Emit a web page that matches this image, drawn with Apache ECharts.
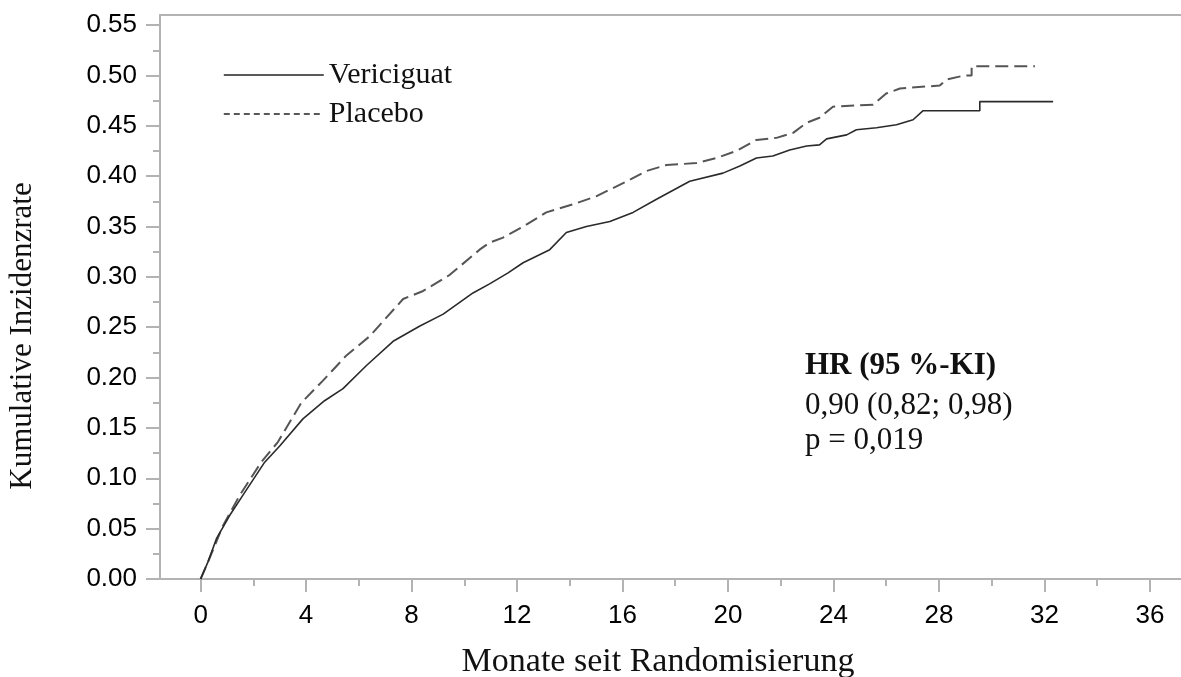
<!DOCTYPE html>
<html><head><meta charset="utf-8">
<script src="https://cdn.jsdelivr.net/npm/echarts@6/dist/echarts.min.js"></script>
<style>html,body{margin:0;padding:0;background:#fff}#c{width:1181px;height:677px}</style>
</head><body><div id="c"></div>
<script>
// Data: [months, cumulative incidence]
const vericiguat = [
  [0,0],[0.28,0.017],[0.6,0.040],[1.1,0.063],[1.6,0.083],[2.43,0.116],[3.0,0.132],
  [3.88,0.159],[4.7,0.177],[5.4,0.189],[6.29,0.212],[7.3,0.236],[8.3,0.251],[9.2,0.263],
  [10.33,0.284],[10.96,0.293],[11.66,0.304],[12.23,0.314],[13.24,0.327],[13.87,0.344],
  [14.63,0.350],[15.52,0.355],[16.4,0.364],[17.29,0.377],[18.55,0.395],[19.81,0.403],
  [20.45,0.410],[21.08,0.418],[21.7,0.420],[22.34,0.426],[22.98,0.430],[23.47,0.431],
  [23.74,0.437],[24.5,0.441],[24.87,0.446],[25.63,0.448],[26.39,0.451],[27.02,0.456],
  [27.4,0.465],[29.55,0.465],[29.55,0.474],[32.33,0.474]
];
const placebo = [
  [0,0],[0.28,0.017],[0.85,0.053],[1.48,0.083],[2.3,0.116],[2.93,0.136],[3.82,0.175],
  [4.64,0.197],[5.53,0.222],[6.41,0.241],[7.68,0.278],[8.44,0.286],[9.45,0.302],
  [10.58,0.327],[10.96,0.334],[11.47,0.339],[12.23,0.350],[13.11,0.364],[14.12,0.372],
  [15.0,0.380],[16.02,0.393],[16.9,0.405],[17.66,0.411],[18.8,0.413],[19.56,0.418],
  [20.32,0.425],[21.08,0.436],[21.84,0.438],[22.47,0.443],[22.98,0.453],[23.47,0.458],
  [23.98,0.469],[25.5,0.471],[26.0,0.482],[26.52,0.487],[28.03,0.490],[28.29,0.496],
  [28.98,0.500],[29.24,0.500],[29.24,0.509],[31.64,0.509]
];
const seriesNames = ['Vericiguat', 'Placebo'];
const xTickValues = [0,4,8,12,16,20,24,28,32,36];
const xMinorValues = [2,6,10,14,18,22,26,30,34];
const yTickValues = [0,0.05,0.10,0.15,0.20,0.25,0.30,0.35,0.40,0.45,0.50,0.55];
const yTickLabels = ['0.00','0.05','0.10','0.15','0.20','0.25','0.30','0.35','0.40','0.45','0.50','0.55'];
const yMinorValues = [0.025,0.075,0.125,0.175,0.225,0.275,0.325,0.375,0.425,0.475,0.525];
const xTitle = 'Monate seit Randomisierung';
const yTitle = 'Kumulative Inzidenzrate';
const annotationLines = ['HR (95 %-KI)', '0,90 (0,82; 0,98)', 'p = 0,019'];

const AX = '#b3b3b3';
const SANS = '"Liberation Sans", Arial, sans-serif';
const SERIF = '"Liberation Serif", "Times New Roman", serif';
const X_MIN = -1.54, X_MAX = 37.18, Y_MAX = 0.56;

const chart = echarts.init(document.getElementById('c'), null, {renderer: 'canvas'});
const axLine = {show: true, onZero: false, lineStyle: {color: AX, width: 2}};
const hiddenSymbol = {color: 'rgba(0,0,0,0)', borderWidth: 0, opacity: 0};
chart.setOption({
  animation: false,
  backgroundColor: '#fff',
  grid: {left: 160, right: 0, top: 15, bottom: 98, containLabel: false},
  legend: {
    left: 218, top: 55, orient: 'vertical', itemWidth: 100, itemHeight: 14, itemGap: 9,
    selectedMode: false,
    itemStyle: hiddenSymbol,
    textStyle: {fontFamily: SERIF, fontSize: 30, color: '#111'},
    data: [
      {name: seriesNames[0], itemStyle: hiddenSymbol, lineStyle: {type: 'solid', width: 1.3, color: '#222'}},
      {name: seriesNames[1], itemStyle: hiddenSymbol, lineStyle: {type: [6, 4], width: 1.6, color: '#222'}}
    ]
  },
  xAxis: [
    {type: 'value', min: X_MIN, max: X_MAX, position: 'bottom', axisLine: axLine,
     axisTick: {show: true, length: 13, customValues: xTickValues, lineStyle: {color: AX, width: 2}},
     axisLabel: {customValues: xTickValues, margin: 24, fontSize: 26, fontFamily: SANS, color: '#000'},
     splitLine: {show: false}},
    {type: 'value', min: X_MIN, max: X_MAX, position: 'bottom', axisLine: {show: false, onZero: false},
     axisTick: {show: true, length: 7, customValues: xMinorValues, lineStyle: {color: AX, width: 2}},
     axisLabel: {show: false}, splitLine: {show: false}},
    {type: 'value', min: X_MIN, max: X_MAX, position: 'top', axisLine: axLine,
     axisTick: {show: false}, axisLabel: {show: false}, splitLine: {show: false}}
  ],
  yAxis: [
    {type: 'value', min: 0, max: Y_MAX, position: 'left', axisLine: axLine,
     axisTick: {show: true, length: 14, customValues: yTickValues, lineStyle: {color: AX, width: 2}},
     axisLabel: {customValues: yTickValues, margin: 23, fontSize: 26, fontFamily: SANS, color: '#000',
       formatter: v => { const i = yTickValues.findIndex(t => Math.abs(t - v) < 1e-9); return i >= 0 ? yTickLabels[i] : ''; }},
     splitLine: {show: false}},
    {type: 'value', min: 0, max: Y_MAX, position: 'left', axisLine: {show: false, onZero: false},
     axisTick: {show: true, length: 7, customValues: yMinorValues, lineStyle: {color: AX, width: 2}},
     axisLabel: {show: false}, splitLine: {show: false}}
  ],
  series: [
    {name: seriesNames[0], type: 'line', xAxisIndex: 0, yAxisIndex: 0, data: vericiguat,
     symbol: 'none', showSymbol: false, z: 4,
     lineStyle: {color: '#2a2a2a', width: 1.6}, itemStyle: {color: '#2a2a2a'}},
    {name: seriesNames[1], type: 'line', xAxisIndex: 0, yAxisIndex: 0, data: placebo,
     symbol: 'none', showSymbol: false, z: 3,
     lineStyle: {color: '#555', width: 2, type: [13, 6]}, itemStyle: {color: '#555'}}
  ],
  graphic: [
    {id: 'ytitle', type: 'text', x: 23, y: 336, rotation: Math.PI / 2,
     style: {text: yTitle, fontSize: 31, fontFamily: SERIF, fill: '#111', align: 'center', verticalAlign: 'middle'}},
    {id: 'xtitle', type: 'text', x: 658, y: 662,
     style: {text: xTitle, fontSize: 34, fontFamily: SERIF, fill: '#111', align: 'center', verticalAlign: 'middle'}},
    {id: 'a0', type: 'text', x: 805, y: 366,
     style: {text: annotationLines[0], fontSize: 31, fontWeight: 'bold', fontFamily: SERIF, fill: '#111', align: 'left', verticalAlign: 'middle'}},
    {id: 'a1', type: 'text', x: 805, y: 406,
     style: {text: annotationLines[1], fontSize: 31, fontFamily: SERIF, fill: '#111', align: 'left', verticalAlign: 'middle'}},
    {id: 'a2', type: 'text', x: 805, y: 441,
     style: {text: annotationLines[2], fontSize: 31, fontFamily: SERIF, fill: '#111', align: 'left', verticalAlign: 'middle'}}
  ]
});
// short extension of the x-axis line to the left of the y-axis
const xa = chart.convertToPixel({xAxisIndex: 0}, -2.07);
const xb = chart.convertToPixel({xAxisIndex: 0}, X_MIN);
const y0 = chart.convertToPixel({yAxisIndex: 0}, 0);
chart.setOption({graphic: [{id: 'xext', type: 'line', shape: {x1: xa, y1: y0, x2: xb, y2: y0},
  style: {stroke: AX, lineWidth: 2}}]});
</script></body></html>
